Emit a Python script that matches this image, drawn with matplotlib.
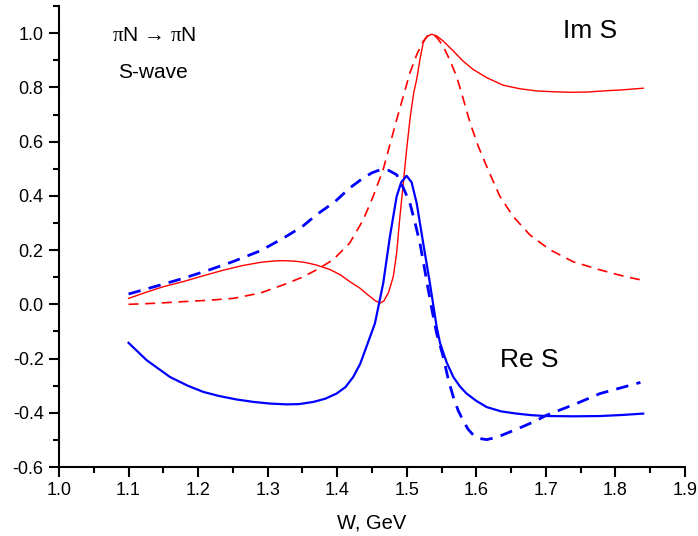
import matplotlib
matplotlib.use("Agg")
import matplotlib.pyplot as plt
from matplotlib.ticker import MultipleLocator

# Im S, solid (red)
im_solid_w = [1.100, 1.126, 1.150, 1.179, 1.207, 1.235, 1.262, 1.290, 1.310, 1.3225, 1.340, 1.355, 1.370, 1.390, 1.405, 1.418, 1.433, 1.445, 1.455, 1.4615, 1.467, 1.474, 1.4806, 1.4855, 1.4902, 1.4950, 1.4998, 1.505, 1.510, 1.5143, 1.519, 1.5237, 1.529, 1.5357, 1.543, 1.5525, 1.567, 1.581, 1.5956, 1.615, 1.6387, 1.6627, 1.6867, 1.710, 1.7346, 1.760, 1.7825, 1.810, 1.840]
im_solid_v = [0.022, 0.045, 0.065, 0.084, 0.105, 0.125, 0.142, 0.155, 0.160, 0.161, 0.159, 0.154, 0.145, 0.128, 0.108, 0.084, 0.059, 0.033, 0.013, 0.004, 0.012, 0.045, 0.102, 0.189, 0.324, 0.445, 0.570, 0.690, 0.780, 0.830, 0.903, 0.965, 0.988, 0.996, 0.990, 0.971, 0.934, 0.897, 0.866, 0.836, 0.808, 0.795, 0.787, 0.784, 0.782, 0.783, 0.787, 0.791, 0.797]

# Im S, dashed (red)
im_dash_w = [1.100, 1.140, 1.179, 1.215, 1.251, 1.290, 1.3225, 1.350, 1.370, 1.394, 1.418, 1.4375, 1.452, 1.466, 1.4855, 1.5046, 1.515, 1.5237, 1.530, 1.5357, 1.543, 1.5525, 1.562, 1.5716, 1.5810, 1.591, 1.6028, 1.617, 1.634, 1.653, 1.677, 1.706, 1.7394, 1.778, 1.810, 1.840]
im_dash_v = [0.000, 0.004, 0.010, 0.015, 0.022, 0.042, 0.072, 0.100, 0.127, 0.164, 0.226, 0.312, 0.400, 0.496, 0.681, 0.854, 0.925, 0.970, 0.990, 0.996, 0.985, 0.952, 0.900, 0.841, 0.760, 0.670, 0.583, 0.496, 0.398, 0.324, 0.256, 0.201, 0.157, 0.127, 0.105, 0.088]

# Re S, solid (blue)
re_solid_w = [1.100, 1.126, 1.1596, 1.185, 1.2075, 1.230, 1.2554, 1.280, 1.3033, 1.3273, 1.3450, 1.3656, 1.3830, 1.3992, 1.412, 1.423, 1.433, 1.442, 1.4543, 1.4662, 1.4758, 1.4855, 1.492, 1.4998, 1.507, 1.5143, 1.5237, 1.5333, 1.543, 1.548, 1.5575, 1.567, 1.5765, 1.586, 1.600, 1.615, 1.636, 1.658, 1.680, 1.701, 1.740, 1.778, 1.810, 1.840]
re_solid_v = [-0.142, -0.206, -0.268, -0.300, -0.323, -0.338, -0.351, -0.360, -0.366, -0.369, -0.368, -0.360, -0.348, -0.329, -0.305, -0.268, -0.220, -0.157, -0.070, 0.078, 0.250, 0.398, 0.450, 0.474, 0.450, 0.373, 0.225, 0.078, -0.083, -0.144, -0.215, -0.268, -0.303, -0.329, -0.356, -0.379, -0.395, -0.403, -0.409, -0.412, -0.413, -0.412, -0.408, -0.403]

# Re S, dashed (blue)
re_dash_w = [1.100, 1.140, 1.179, 1.215, 1.2506, 1.290, 1.3225, 1.350, 1.370, 1.397, 1.418, 1.4375, 1.450, 1.4615, 1.474, 1.4855, 1.495, 1.5046, 1.512, 1.519, 1.5250, 1.531, 1.537, 1.543, 1.5525, 1.560, 1.567, 1.574, 1.581, 1.588, 1.596, 1.605, 1.615, 1.630, 1.648, 1.665, 1.682, 1.701, 1.722, 1.744, 1.778, 1.805, 1.836]
re_dash_v = [0.038, 0.067, 0.096, 0.126, 0.158, 0.198, 0.244, 0.287, 0.330, 0.379, 0.429, 0.466, 0.485, 0.496, 0.494, 0.478, 0.430, 0.373, 0.300, 0.225, 0.140, 0.053, -0.030, -0.107, -0.194, -0.280, -0.342, -0.392, -0.428, -0.460, -0.483, -0.495, -0.499, -0.490, -0.471, -0.453, -0.434, -0.409, -0.388, -0.366, -0.329, -0.310, -0.288]

x_ticks = [1.0, 1.1, 1.2, 1.3, 1.4, 1.5, 1.6, 1.7, 1.8, 1.9]
y_ticks = [-0.6, -0.4, -0.2, 0.0, 0.2, 0.4, 0.6, 0.8, 1.0]

plt.rcParams['font.family'] = ['Liberation Sans', 'DejaVu Sans']
plt.rcParams['mathtext.fontset'] = 'custom'
plt.rcParams['mathtext.rm'] = 'Liberation Serif'

fig = plt.figure(figsize=(6.98, 5.36), dpi=100)
ax = fig.add_axes([0.0845, 0.1287, 0.8968, 0.860])

ax.plot(im_solid_w, im_solid_v, color='#ff0000', lw=1.0)
ax.plot(im_dash_w, im_dash_v, color='#ff0000', lw=1.2, dashes=(6, 4))
ax.plot(re_solid_w, re_solid_v, color='#0000ff', lw=1.6)
ax.plot(re_dash_w, re_dash_v, color='#0000ff', lw=2.0, dashes=(4.5, 3))

ax.set_xlim(1.0, 1.9)
ax.set_ylim(-0.6, 1.1)
ax.set_xticks(x_ticks)
ax.set_xticklabels([f"{v:.1f}" for v in x_ticks])
ax.set_yticks(y_ticks)
ax.set_yticklabels([f"{v:.1f}" for v in y_ticks])
ax.xaxis.set_minor_locator(MultipleLocator(0.05))
ax.yaxis.set_minor_locator(MultipleLocator(0.1))

for s in ['top', 'right']:
    ax.spines[s].set_visible(False)
for s in ['left', 'bottom']:
    ax.spines[s].set_linewidth(1.5)
ax.tick_params(which='major', direction='out', length=7, width=1.5, labelsize=13, pad=4)
ax.tick_params(which='minor', direction='out', length=4, width=1.5)

ax.set_xlabel('W, GeV', fontsize=14.5, labelpad=10)

ax.text(1.076, 0.99, r'$\mathrm{\pi}$N → $\mathrm{\pi}$N', fontsize=15, ha='left', va='center')
ax.text(1.085, 0.855, 'S-wave', fontsize=15, ha='left', va='center')
ax.text(1.7245, 1.007, 'Im S', fontsize=19, ha='left', va='center')
ax.text(1.634, -0.206, 'Re S', fontsize=19, ha='left', va='center')

fig.savefig('out.png', dpi=100)
